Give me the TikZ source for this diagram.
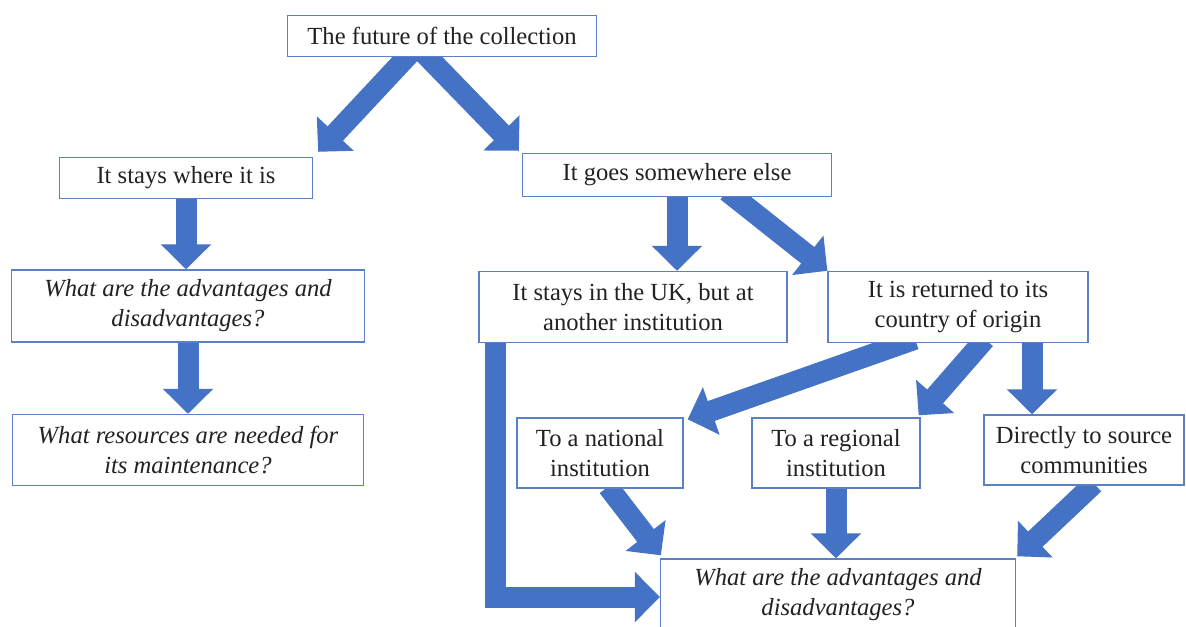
\documentclass[tikz,border=0pt]{standalone}
\usepackage{fontspec}
\setmainfont{Liberation Serif}
\usepackage{tikz}
\usepackage{xcolor}
\usetikzlibrary{arrows.meta,positioning,calc,backgrounds}
\definecolor{ink}     {HTML}{222222}
\definecolor{boxline} {HTML}{5B80C4}
\definecolor{arrblue} {HTML}{4472C4}
\tikzset{
  flowbox/.style ={draw=boxline, fill=white, line width=0.8pt,
                   align=center, inner sep=2pt, text=ink,
                   font=\fontsize{14}{17}\selectfont},
  qbox/.style    ={flowbox, font=\fontsize{14}{17}\selectfont\itshape},
  bigarr/.style  ={-{Triangle[length=0.5cm,width=0.98cm]},
                   line width=0.42cm, draw=arrblue},
}

\begin{document}
\begin{tikzpicture}[x=0.02cm,y=-0.02cm]
        \useasboundingbox (0,0) rectangle (1186,626);

        % top level
        \node[flowbox,minimum width=6.18cm,minimum height=0.82cm] (future) at (442,36)
          {The future of the collection};

        % left branch
        \node[flowbox,minimum width=5.06cm,minimum height=0.82cm] (stays) at (186,178)
          {It stays where it is};
        \node[qbox,minimum width=7.06cm,minimum height=1.44cm] (qleft) at (188,306)
          {What are the advantages and\\disadvantages?};
        \node[qbox,minimum width=7.02cm,minimum height=1.42cm] (resources) at (188,450)
          {What resources are needed for\\its maintenance?};

        % right branch
        \node[flowbox,minimum width=6.18cm,minimum height=0.86cm] (goes) at (677,175)
          {It goes somewhere else};
        \node[flowbox,minimum width=6.16cm,minimum height=1.42cm] (uk) at (633,307)
          {It stays in the UK, but at\\another institution};
        \node[flowbox,minimum width=5.2cm,minimum height=1.42cm] (origin) at (958,307)
          {It is returned to its\\country of origin};

        % destinations
        \node[flowbox,minimum width=3.32cm,minimum height=1.4cm] (national) at (600,453)
          {To a national\\institution};
        \node[flowbox,minimum width=3.36cm,minimum height=1.4cm] (regional) at (836,453)
          {To a regional\\institution};
        \node[flowbox,minimum width=4.0cm,minimum height=1.4cm] (direct) at (1084,450)
          {Directly to source\\communities};
        \node[qbox,minimum width=7.1cm,minimum height=1.44cm] (qright) at (838,595)
          {What are the advantages and\\disadvantages?};

        \begin{scope}[on background layer]
          % fork
          \coordinate (fork) at (417,46);
          \draw[bigarr] (fork) -- ($(stays.north east)+(5,-5)$);
          \draw[bigarr] (fork) -- ($(goes.north west)+(-3,-2)$);

          % left column
          \draw[bigarr] (stays.south) -- (stays.south |- qleft.north);
          \draw[bigarr] (qleft.south) -- (qleft.south |- resources.north);

          % somewhere else
          \draw[bigarr] (goes.south) -- (goes.south |- uk.north);
          \draw[bigarr] ($(goes.south)+(50,-6)$) -- (origin.north west);

          % country of origin
          \coordinate (odir) at ($(origin.south)+(74,-4)$);
          \draw[bigarr] ($(origin.south)+(-43,-4)$) -- ($(national.north east)+(4,2)$);
          \draw[bigarr] ($(origin.south)+(27,-4)$) -- ($(regional.north east)+(-2,-2)$);
          \draw[bigarr] (odir) -- (odir |- direct.north);

          % into the last question
          \draw[bigarr] ($(national.south)+(8,-2)$) -- ($(qright.north west)+(1,-3)$);
          \draw[bigarr] (regional.south) -- (regional.south |- qright.north);
          \draw[bigarr] ($(direct.south)+(10,-2)$) -- ($(qright.north east)+(1,-2)$);
          \draw[bigarr] ($(uk.south west)+(17,-4)$) |- ($(qright.west)+(0,2)$);
        \end{scope}
      \end{tikzpicture}
\end{document}
